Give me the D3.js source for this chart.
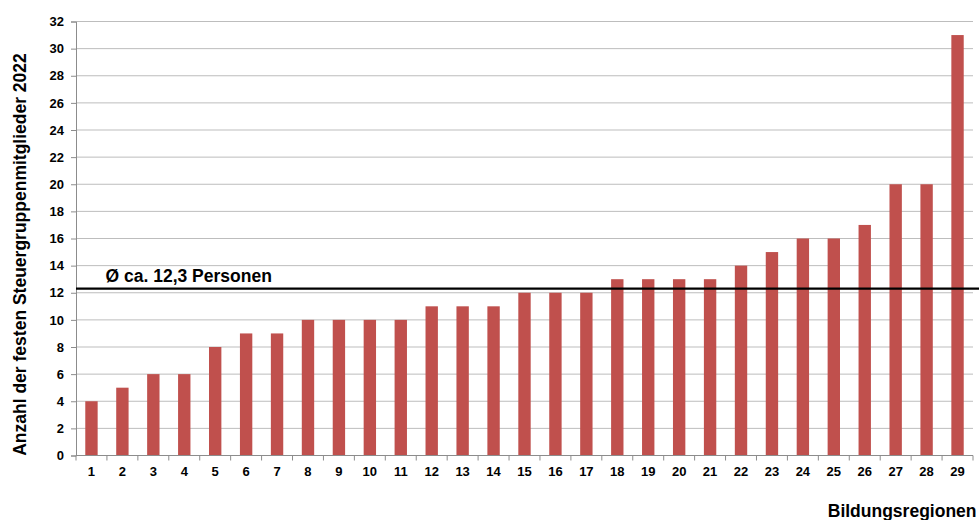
<!DOCTYPE html>
<html>
<head>
<meta charset="utf-8">
<script src="https://cdn.jsdelivr.net/npm/d3@7"></script>
<style>
  html, body { margin: 0; padding: 0; background: #fff; }
  svg { display: block; font-family: "Liberation Sans", Arial, sans-serif; }
</style>
</head>
<body>
<svg id="chart" width="979" height="520"></svg>
<script>
// Bildungsregionen 1..29 and the number of permanent steering group members
const regions = d3.range(1, 30).map(String);
const members = [4, 5, 6, 6, 8, 9, 9, 10, 10, 10, 10, 11, 11, 11, 12, 12, 12,
                 13, 13, 13, 13, 14, 15, 16, 16, 17, 20, 20, 31];
const yTicks = d3.range(0, 33, 2);
const average = 12.3;
const averageLabel = "Ø ca. 12,3 Personen";
const xTitle = "Bildungsregionen";
const yTitle = "Anzahl der festen Steuergruppenmitglieder 2022";

const svg = d3.select("#chart");
const plotLeft = 76, plotRight = 973, plotTop = 21.5, plotBottom = 455.5;

const x = d3.scaleBand().domain(regions).range([plotLeft, plotRight]).paddingInner(0.6).paddingOuter(0.3);
const y = d3.scaleLinear().domain([0, 32]).range([plotBottom, plotTop]);

// horizontal gridlines
svg.append("g")
  .selectAll("line")
  .data(yTicks.filter(d => d > 0))
  .join("line")
  .attr("x1", plotLeft).attr("x2", plotRight)
  .attr("y1", d => y(d)).attr("y2", d => y(d))
  .attr("stroke", "#bdbdbd").attr("stroke-width", 1);

// bars
svg.append("g")
  .selectAll("rect")
  .data(members)
  .join("rect")
  .attr("x", (d, i) => x(regions[i]))
  .attr("width", x.bandwidth())
  .attr("y", d => y(d))
  .attr("height", d => plotBottom - y(d))
  .attr("fill", "#C0504D");

// y axis
const yAxis = svg.append("g")
  .attr("transform", `translate(${plotLeft},0)`)
  .call(d3.axisLeft(y).tickValues(yTicks).tickSize(5).tickPadding(7));
yAxis.select(".domain").attr("stroke", "#8c8c8c");
yAxis.selectAll(".tick line").attr("stroke", "#8c8c8c");
yAxis.selectAll("text")
  .attr("font-size", "13px").attr("font-weight", "bold").attr("fill", "#000")
  .attr("font-family", "Liberation Sans, Arial, sans-serif");

// x axis: tick marks on the category boundaries, labels centred in each band
const xg = svg.append("g");
xg.append("line")
  .attr("x1", plotLeft).attr("x2", plotRight).attr("y1", plotBottom).attr("y2", plotBottom)
  .attr("stroke", "#8c8c8c");
xg.selectAll("line.tk")
  .data(d3.range(0, regions.length + 1))
  .join("line").attr("class", "tk")
  .attr("x1", i => plotLeft + i * (plotRight - plotLeft) / regions.length)
  .attr("x2", i => plotLeft + i * (plotRight - plotLeft) / regions.length)
  .attr("y1", plotBottom).attr("y2", plotBottom + 5)
  .attr("stroke", "#8c8c8c");
xg.selectAll("text")
  .data(regions)
  .join("text")
  .attr("x", d => x(d) + x.bandwidth() / 2)
  .attr("y", 475.5)
  .attr("text-anchor", "middle")
  .attr("font-size", "13px").attr("font-weight", "bold")
  .text(d => d);

// average line
svg.append("line")
  .attr("x1", plotLeft).attr("x2", 979)
  .attr("y1", y(average)).attr("y2", y(average))
  .attr("stroke", "#000").attr("stroke-width", 2.2);
svg.append("text")
  .attr("x", 105.5).attr("y", 281.5)
  .attr("font-size", "17.5px").attr("font-weight", "bold")
  .text(averageLabel);

// axis titles
svg.append("text")
  .attr("x", 976.5).attr("y", 517)
  .attr("text-anchor", "end")
  .attr("font-size", "17.5px").attr("font-weight", "bold")
  .text(xTitle);
svg.append("text")
  .attr("transform", `translate(25.5,254.5) rotate(-90)`)
  .attr("text-anchor", "middle")
  .attr("font-size", "17.5px").attr("font-weight", "bold")
  .text(yTitle);
</script>
</body>
</html>
